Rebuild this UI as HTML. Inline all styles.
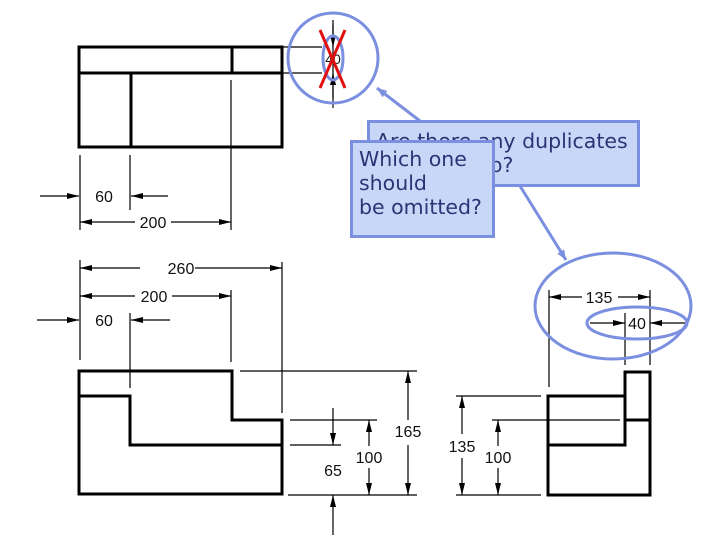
<!DOCTYPE html>
<html><head><meta charset="utf-8"><style>
body{margin:0;background:#fff;width:720px;height:540px;overflow:hidden;position:relative}
svg{position:absolute;left:0;top:0}
text{font-family:"Liberation Sans",sans-serif;font-size:16px;fill:#111}
.b{position:absolute;background:#c8d6f8;border:3px solid #7b8fe0;box-sizing:border-box;color:#2c3474;font-family:"DejaVu Sans","Liberation Sans",sans-serif;font-size:20.5px;line-height:24px;padding:4px 6px;white-space:nowrap;overflow:hidden}
</style></head><body>
<svg width="720" height="540" viewBox="0 0 720 540">
<defs><marker id="a" viewBox="0 0 12 6" refX="12" refY="3" markerWidth="12" markerHeight="6" orient="auto-start-reverse" markerUnits="userSpaceOnUse"><path d="M0,0L12,3L0,6z" fill="#000"/></marker>
<marker id="c" viewBox="0 0 10 8" refX="10" refY="4" markerWidth="10" markerHeight="8" orient="auto" markerUnits="userSpaceOnUse"><path d="M0,0L10,4L0,8z" fill="#7b8fe0"/></marker></defs>
<g fill="none" stroke="#000" stroke-width="3">
<rect x="79" y="47" width="203" height="100"/>
<path d="M79 73H282M131 73V147M232 47V73"/>
<path d="M79 371H232V420H282V494H79Z"/>
<path d="M79 396H130V445H282"/>
<path d="M548 396H625V372H650V495H548Z"/>
<path d="M625 396V445H548M625 420H650"/>
</g>
<g fill="none" stroke="#000" stroke-width="1.2">
<path d="M231 80V230M80 155V210M130 155V210M80 210V230"/>
<path d="M40 196H79" marker-end="url(#a)"/><path d="M168 196H131" marker-end="url(#a)"/>
<path d="M135 222H80" marker-end="url(#a)"/><path d="M171 222H231" marker-end="url(#a)"/>
<path d="M282 47H322M282 73H322M333 20V108"/>
<path d="M333 25V47" marker-end="url(#a)"/><path d="M333 98V73" marker-end="url(#a)"/>
<path d="M80 260V360M282 262V413M231 290V362M130 313V388"/>
<path d="M140 268H80" marker-end="url(#a)"/><path d="M195 268H282" marker-end="url(#a)"/>
<path d="M135 296H80" marker-end="url(#a)"/><path d="M172 296H231" marker-end="url(#a)"/>
<path d="M37 320H79" marker-end="url(#a)"/><path d="M170 320H131" marker-end="url(#a)"/>
<path d="M240 371H417M290 420H377M290 445H341M288 495H417"/>
<path d="M408 420V371" marker-end="url(#a)"/><path d="M408 445V495" marker-end="url(#a)"/>
<path d="M369 446V420" marker-end="url(#a)"/><path d="M369 468V495" marker-end="url(#a)"/>
<path d="M333 408V445" marker-end="url(#a)"/><path d="M333 535V495" marker-end="url(#a)"/>
<path d="M456 396H541M492 420H620M456 495H541"/>
<path d="M462 434V396" marker-end="url(#a)"/><path d="M462 458V495" marker-end="url(#a)"/>
<path d="M498 446V420" marker-end="url(#a)"/><path d="M498 468V495" marker-end="url(#a)"/>
<path d="M549 290V387M650 290V365M625 313V365"/>
<path d="M582 297H549" marker-end="url(#a)"/><path d="M618 297H650" marker-end="url(#a)"/>
<path d="M590 323H625" marker-end="url(#a)"/><path d="M685 323H650" marker-end="url(#a)"/>
</g>
<g text-anchor="middle">
<text x="104" y="202">60</text><text x="153" y="228">200</text>
<text x="181" y="274">260</text><text x="154" y="302">200</text><text x="104" y="326">60</text>
<text x="408" y="437">165</text><text x="369" y="463">100</text><text x="333" y="476">65</text>
<text x="462" y="452">135</text><text x="498" y="463">100</text>
<text x="599" y="303">135</text><text x="637" y="329">40</text>
<text x="333" y="64" style="font-size:14px">40</text>
</g>
<g fill="none" stroke="#7b8fe0" stroke-width="3">
<circle cx="333" cy="58" r="45"/>
<ellipse cx="333" cy="58" rx="10" ry="22"/>
<ellipse cx="613" cy="306" rx="78" ry="53"/>
<ellipse cx="637" cy="323" rx="50" ry="16"/>
<path d="M420 121L377 88" marker-end="url(#c)"/>
<path d="M520 186L566 260" marker-end="url(#c)"/>
</g>
<path d="M320 30L345 88M345 30L320 88" stroke="#e01010" stroke-width="3"/>
</svg>
<div class="b" style="left:367px;top:120px;width:273px;height:67px;padding-top:6px">Are there any duplicates<br>in this setup?</div>
<div class="b" style="left:350px;top:140px;width:145px;height:98px">Which one<br>should<br>be omitted?</div>
</body></html>
